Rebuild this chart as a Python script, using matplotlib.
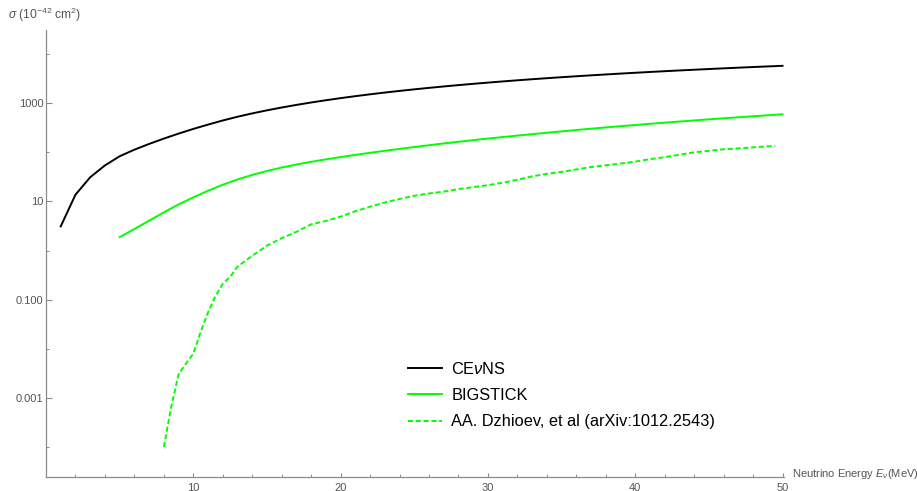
import matplotlib
matplotlib.use("Agg")
import matplotlib.pyplot as plt
from matplotlib.ticker import FixedLocator, FixedFormatter, NullFormatter

plt.rcParams["font.family"] = ["Liberation Sans", "DejaVu Sans"]
plt.rcParams["mathtext.fontset"] = "custom"
plt.rcParams["mathtext.rm"] = "Liberation Sans"
plt.rcParams["mathtext.it"] = "Liberation Sans:italic"
plt.rcParams["mathtext.bf"] = "Liberation Sans:bold"

# Coherent elastic neutrino-nucleus scattering cross section (1e-42 cm^2)
cevns_energy = list(range(1, 51))
cevns_sigma = [3.1, 13.7, 31, 54, 83, 113, 148, 190, 240, 299,
               366, 444, 529, 619, 715, 816, 922, 1033, 1147, 1266,
               1389, 1515, 1645, 1777, 1912, 2050, 2190, 2332, 2477, 2623,
               2771, 2922, 3073, 3225, 3379, 3533, 3688, 3845, 4002, 4160,
               4319, 4478, 4638, 4798, 4959, 5121, 5282, 5444, 5604, 5766]

# Shell-model (BIGSTICK) inelastic cross section
bigstick_energy = list(range(5, 51))
bigstick_sigma = [1.87, 2.74, 4.05, 5.98, 8.65, 12.08, 16.48, 21.83, 27.99, 34.59,
                  41.59, 48.87, 56.36, 63.97, 71.78, 79.98, 88.51, 97.50, 107.2, 117.2,
                  127.9, 139.3, 151.4, 163.7, 176.6, 190.1, 204.2, 218.8, 233.9, 249.7,
                  266.4, 283.8, 302.0, 320.6, 339.6, 359.4, 379.8, 400.9, 422.7, 445.2,
                  468.3, 492.0, 516.4, 541.5, 567.0, 593.7]

# Dzhioev et al. (arXiv:1012.2543)
dzhioev_energy = [8, 8.5, 9, 9.5, 10, 10.5, 11, 11.5, 12, 12.5, 13, 14, 15,
                  16, 17, 18, 19, 20, 21, 22, 23, 24, 25, 26, 27, 28, 29,
                  30, 31, 32, 33, 34, 35, 36, 37, 38, 39, 40, 41, 42, 43,
                  44, 45, 46, 47, 48, 49, 49.5]
dzhioev_sigma = [1.0e-4, 6.5e-4, 3.0e-3, 5.0e-3, 7.9e-3, 0.022, 0.055, 0.117,
                 0.21, 0.29, 0.47, 0.78, 1.26, 1.78, 2.4, 3.4, 4.0, 4.9, 6.3,
                 7.8, 9.5, 11.2, 13.0, 14.5, 15.8, 17.8, 19.5, 21.4, 24.0,
                 27.5, 32.4, 36.3, 39.8, 44.7, 50.1, 54.3, 58.9, 64.6, 72.4,
                 79.4, 89.1, 100, 107, 115, 120, 126, 132, 135]

series_labels = [r"CE$\it{\nu}$NS", "BIGSTICK", "AA. Dzhioev, et al (arXiv:1012.2543)"]

y_major = [1e-3, 1e-1, 1e1, 1e3]
y_major_labels = ["0.001", "0.100", "10", "1000"]
y_minor = [1e-4, 1e-2, 1e0, 1e2, 1e4]
x_major = [10, 20, 30, 40, 50]
x_minor = [2, 4, 6, 8, 12, 14, 16, 18, 22, 24, 26, 28, 32, 34, 36, 38, 42, 44, 46, 48]

axis_gray = "#8a8a8a"
label_gray = "#555555"
green = "#00ff00"

fig = plt.figure(figsize=(9.17, 4.91), dpi=100)
ax = fig.add_axes([46 / 917, 1 - 477 / 491, (784 - 46) / 917, (477 - 30) / 491])

lw = 1.4
ax.plot(cevns_energy, cevns_sigma, color="black", lw=lw, label=series_labels[0],
        solid_joinstyle="round")
ax.plot(bigstick_energy, bigstick_sigma, color=green, lw=lw, label=series_labels[1])
ax.plot(dzhioev_energy, dzhioev_sigma, color=green, lw=lw, label=series_labels[2],
        linestyle=(0, (2.6, 1.4)))

ax.set_yscale("log")
ax.set_xlim(0, 50.1)
ax.set_ylim(10 ** -4.612, 10 ** 4.49)

ax.yaxis.set_major_locator(FixedLocator(y_major))
ax.yaxis.set_major_formatter(FixedFormatter(y_major_labels))
ax.yaxis.set_minor_locator(FixedLocator(y_minor))
ax.yaxis.set_minor_formatter(NullFormatter())
ax.xaxis.set_major_locator(FixedLocator(x_major))
ax.xaxis.set_minor_locator(FixedLocator(x_minor))

for side in ("top", "right"):
    ax.spines[side].set_visible(False)
for side in ("left", "bottom"):
    ax.spines[side].set_color(axis_gray)
    ax.spines[side].set_linewidth(0.9)

ax.tick_params(axis="both", which="major", direction="in", length=4.5, width=0.8,
               color=axis_gray, labelcolor=label_gray, labelsize=8, pad=2)
ax.tick_params(axis="both", which="minor", direction="in", length=2.5, width=0.7,
               color=axis_gray)
ax.tick_params(axis="x", which="major", length=3, pad=4)
ax.tick_params(axis="x", which="minor", length=2)

fig.text(8 / 917, 1 - 15 / 491, r"$\it{\sigma}$ (10$^{-42}$ cm$^2$)", fontsize=8.7,
         color=label_gray, ha="left", va="center")
fig.text(792 / 917, 1 - 474 / 491, r"Neutrino Energy $\it{E}_{\it{\nu}}$(MeV)", fontsize=8,
         color=label_gray, ha="left", va="center")

leg = ax.legend(loc="upper left", bbox_to_anchor=(408 / 917, 1 - 361 / 491),
                bbox_transform=fig.transFigure, frameon=False, fontsize=11.8,
                handlelength=2.1, handletextpad=0.55, labelspacing=0.68,
                borderpad=0, borderaxespad=0)

fig.savefig("out.png", dpi=100)
